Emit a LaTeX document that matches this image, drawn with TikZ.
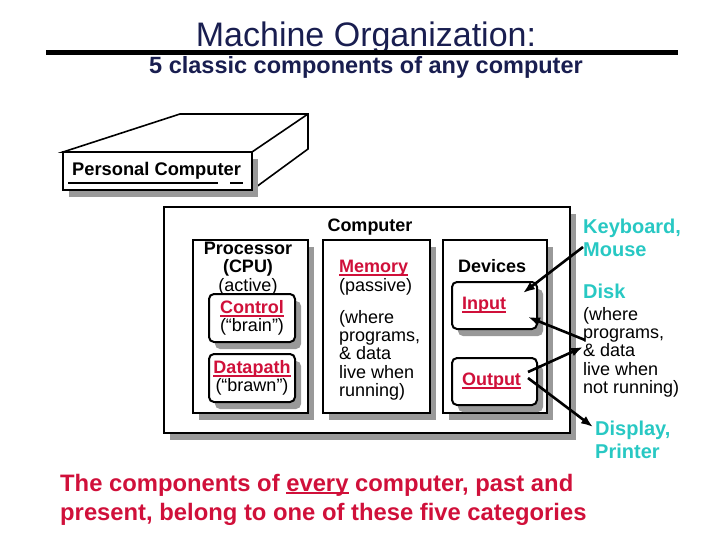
\documentclass[tikz,border=0pt]{standalone}
\usepackage{fontspec}
\setmainfont{Liberation Sans}
\usetikzlibrary{shadows,arrows.meta}
\definecolor{navy}{RGB}{25,30,80}
\definecolor{crimson}{RGB}{208,16,58}
\definecolor{aqua}{RGB}{40,200,195}
\newcommand{\uln}[1]{\setbox0\hbox{#1}\rlap{\rule[-3pt]{\wd0}{1.6pt}}#1}

\begin{document}
\begin{tikzpicture}[x=1pt,y=-1pt,>={Latex[length=12pt,width=9pt]}]
      \tikzstyle{box}=[draw=black,line width=2pt,fill=white,inner sep=0pt,drop shadow={shadow xshift=6pt,shadow yshift=-7pt,fill=black!40,opacity=1}];
      \tikzstyle{unit}=[box,rounded corners=5pt,align=center];
      \tikzstyle{txt}=[inner sep=0pt,font=\fontsize{18}{18.3}\selectfont];
      \tikzstyle{hl}=[inner sep=0pt,font=\bfseries\fontsize{20}{23.5}\selectfont,text=aqua,align=left];
      \tikzstyle{link}=[->,line width=2.6pt];

      \useasboundingbox (0,0) rectangle (720,540);

      \node[font=\fontsize{34}{36}\selectfont,text=navy,anchor=base,inner sep=0pt](title) at (366,47) {Machine Organization:};
      \draw[line width=5pt] (46,53) -- (678,53);
      \node[font=\bfseries\fontsize{23.5}{25}\selectfont,text=navy,anchor=base,inner sep=0pt](subtitle) at (366,74) {5 classic components of any computer};

      \draw[line width=1.6pt,fill=white] (63,152) -- (180,114) -- (308,114) -- (308,149) -- (252,190) -- (252,152) -- cycle;
      \draw[line width=1.6pt] (308,114) -- (252,152);
      \node[box,minimum width=189pt,minimum height=38pt](pc) at (157.5,171) {};
      \node[txt,font=\bfseries\fontsize{18.3}{20}\selectfont,anchor=base west](pclabel) at (72,176) {Personal Computer};
      \draw[line width=1.6pt] (68,183) -- (218,183) (230,183) -- (243,183);

      \node[box,line width=2.5pt,minimum width=406pt,minimum height=226pt](computer) at (367,320) {};
      \node[txt,font=\bfseries\fontsize{18}{18.3}\selectfont,anchor=base](computerlabel) at (370,231) {Computer};

      \node[box,minimum width=115pt,minimum height=173pt](cpu) at (250.5,326.5) {};
      \node[txt,anchor=base,align=center](cpulabel) at (248,291) {\textbf{Processor}\\\textbf{(CPU)}\\(active)};
      \node[unit,txt,minimum width=86pt,minimum height=48pt](control) at (252,318) {\textcolor{crimson}{\bfseries\uln{Control}}\\(“brain”)};
      \node[unit,txt,minimum width=86pt,minimum height=48pt](datapath) at (252,378) {\textcolor{crimson}{\bfseries\uln{Datapath}}\\(“brawn”)};

      \node[box,minimum width=107pt,minimum height=173pt](memory) at (376.5,326.5) {};
      \node[txt,anchor=base west,align=left](memorylabel) at (339,396.5) {\textcolor{crimson}{\bfseries\uln{Memory}}\\(passive)\\[14pt](where\\programs,\\\& data\\live when\\running)};

      \node[box,minimum width=104pt,minimum height=173pt](devices) at (495,326.5) {};
      \node[txt,font=\bfseries\fontsize{18}{18.3}\selectfont,anchor=base west](deviceslabel) at (458,272) {Devices};
      \node[unit,txt,minimum width=85pt,minimum height=47pt,text width=65pt,align=left,inner xsep=10pt](input) at (494.5,305.5) {\textcolor{crimson}{\bfseries\uln{Input}}};
      \node[unit,txt,minimum width=85pt,minimum height=47pt,text width=65pt,align=left,inner xsep=10pt](output) at (494.5,381.5) {\textcolor{crimson}{\bfseries\uln{Output}}};

      \node[hl,anchor=base west](keyboard) at (583,256.5) {Keyboard,\\Mouse};
      \node[hl,anchor=base west](disk) at (583,298) {Disk};
      \node[txt,anchor=base west,align=left](diskinfo) at (583,393.5) {(where\\programs,\\\& data\\live when\\not running)};
      \node[hl,anchor=base west](display) at (595,458.5) {Display,\\Printer};

      \coordinate (kbdfoot) at (583,247);
      \coordinate (inputtop) at (523,293);
      \coordinate (diskout) at (585,340);
      \coordinate (inputmid) at (528,317);
      \coordinate (outputtop) at (528,372);
      \coordinate (diskin) at (583,347);
      \coordinate (outputmid) at (528,378);
      \coordinate (displaytop) at (593,427);

      \path[link] (kbdfoot) edge (inputtop);
      \path[link] (diskout) edge (inputmid);
      \path[link] (outputtop) edge (diskin);
      \path[link] (outputmid) edge (displaytop);

      \node[anchor=base west,font=\bfseries\fontsize{23.8}{29}\selectfont,text=crimson,align=left,inner sep=0pt](summary) at (60,520) {The components of \uln{every} computer, past and\\present, belong to one of these five categories};

    \end{tikzpicture}
\end{document}
